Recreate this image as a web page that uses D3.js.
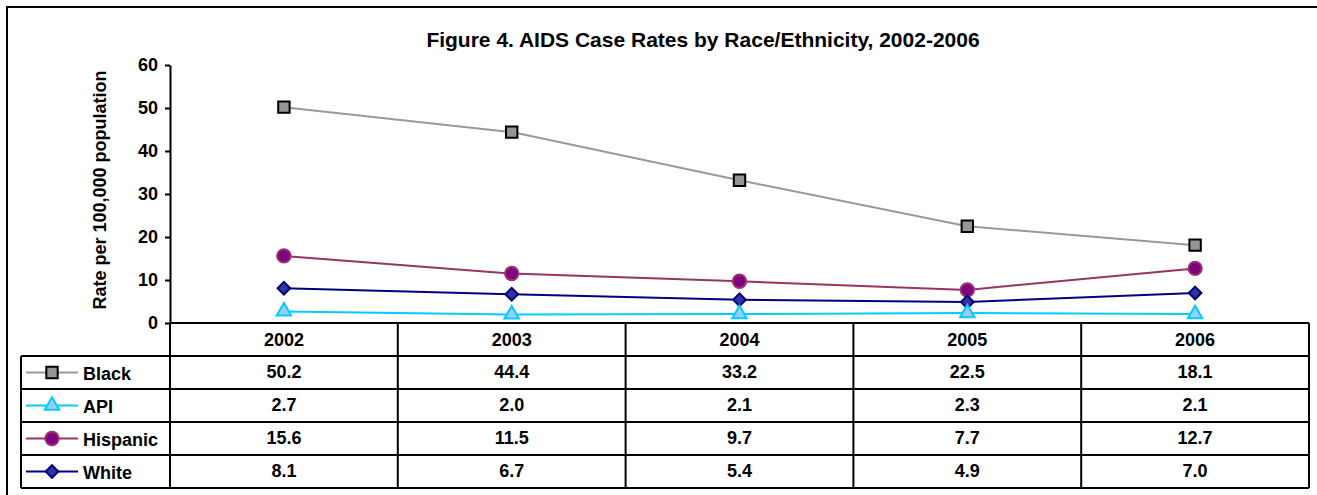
<html>
<head>
<script src="https://d3js.org/d3.v7.min.js"></script>
<style>
body { margin: 0; background: #fff; }
text { font-family: "Liberation Sans", Arial, sans-serif; font-weight: bold; }
</style>
</head>
<body>
<script>
// chart data
var years = ["2002", "2003", "2004", "2005", "2006"];
var seriesNames = ["Black", "API", "Hispanic", "White"];
var black = [50.2, 44.4, 33.2, 22.5, 18.1];
var api = [2.7, 2.0, 2.1, 2.3, 2.1];
var hispanic = [15.6, 11.5, 9.7, 7.7, 12.7];
var white = [8.1, 6.7, 5.4, 4.9, 7.0];
var yTicks = [0, 10, 20, 30, 40, 50, 60];

var styles = {
  Black:    {line: "#999999", fill: "#969696", stroke: "#000000", shape: d3.symbolSquare, size: 130, rot: 0},
  API:      {line: "#00ccff", fill: "#99ccff", stroke: "#00ccff", shape: d3.symbolTriangle, size: 90, rot: 0},
  Hispanic: {line: "#993366", fill: "#800080", stroke: "#993366", shape: d3.symbolCircle, size: 140, rot: 0},
  White:    {line: "#000080", fill: "#333399", stroke: "#000080", shape: d3.symbolSquare, size: 80, rot: 45}
};
var values = {Black: black, API: api, Hispanic: hispanic, White: white};

var W = 1317, H = 495;
var plotLeft = 170, plotRight = 1309, plotTop = 65, plotBottom = 323;
var rowH = 33, tableLeft = 21;

var svg = d3.select("body").append("svg")
    .attr("width", W).attr("height", H);

// outer frame
svg.append("rect")
    .attr("x", 7).attr("y", 7).attr("width", 1320).attr("height", 500)
    .attr("fill", "none").attr("stroke", "#000").attr("stroke-width", 2);

svg.append("text")
    .attr("x", 703).attr("y", 47)
    .attr("text-anchor", "middle")
    .style("font-size", "21px")
    .text("Figure 4. AIDS Case Rates by Race/Ethnicity, 2002-2006");

var x = d3.scaleBand().domain(years).range([plotLeft, plotRight]);
var y = d3.scaleLinear().domain([0, 60]).range([plotBottom, plotTop]);

// y axis
var yAxis = svg.append("g")
    .attr("transform", "translate(" + plotLeft + ",0)")
    .call(d3.axisLeft(y).tickValues(yTicks).tickSize(5).tickPadding(7).tickSizeOuter(0));
yAxis.select(".domain").attr("stroke", "#000").attr("stroke-width", 2);
yAxis.selectAll(".tick line").attr("stroke", "#000").attr("stroke-width", 2);
yAxis.selectAll(".tick text")
    .style("font-size", "18px").style("font-family", "Liberation Sans, Arial, sans-serif")
    .style("font-weight", "bold").attr("fill", "#000");

svg.append("text")
    .attr("transform", "translate(106," + 190 + ") rotate(-90)")
    .attr("text-anchor", "middle")
    .style("font-size", "18px")
    .text("Rate per 100,000 population");

// lines and markers
var cx = function(i) { return x(years[i]) + x.bandwidth() / 2; };
var line = d3.line()
    .x(function(d, i) { return cx(i); })
    .y(function(d) { return y(d); });

var drawOrder = ["Black", "Hispanic", "White", "API"];
drawOrder.forEach(function(name) {
  var s = styles[name];
  svg.append("path")
      .datum(values[name])
      .attr("d", line)
      .attr("fill", "none")
      .attr("stroke", s.line)
      .attr("stroke-width", 2);
  svg.selectAll(".m-" + name)
      .data(values[name])
    .enter().append("path")
      .attr("transform", function(d, i) {
        return "translate(" + cx(i) + "," + y(d) + ") rotate(" + s.rot + ")";
      })
      .attr("d", d3.symbol().type(s.shape).size(s.size))
      .attr("fill", s.fill)
      .attr("stroke", s.stroke)
      .attr("stroke-width", 2);
});

// data table
var t = svg.append("g");
var tableBottom = plotBottom + rowH * (seriesNames.length + 1);

t.append("line").attr("x1", plotLeft).attr("x2", plotRight).attr("y1", plotBottom).attr("y2", plotBottom);
for (var r = 1; r <= seriesNames.length + 1; r++) {
  t.append("line").attr("x1", tableLeft).attr("x2", plotRight)
      .attr("y1", plotBottom + r * rowH).attr("y2", plotBottom + r * rowH);
}
t.append("line").attr("x1", tableLeft).attr("x2", tableLeft)
    .attr("y1", plotBottom + rowH).attr("y2", tableBottom);
years.forEach(function(yr) {
  t.append("line").attr("x1", x(yr)).attr("x2", x(yr))
      .attr("y1", plotBottom).attr("y2", tableBottom);
});
t.append("line").attr("x1", plotRight).attr("x2", plotRight)
    .attr("y1", plotBottom).attr("y2", tableBottom);
t.selectAll("line").attr("stroke", "#000").attr("stroke-width", 2);

// header
t.selectAll(".hdr").data(years).enter().append("text")
    .attr("x", function(d) { return x(d) + x.bandwidth() / 2; })
    .attr("y", plotBottom + rowH / 2 + 6)
    .attr("text-anchor", "middle")
    .style("font-size", "18px")
    .text(function(d) { return d; });

seriesNames.forEach(function(name, r) {
  var cy = plotBottom + (r + 1) * rowH + rowH / 2;
  var s = styles[name];
  t.append("line").attr("x1", 26).attr("x2", 78).attr("y1", cy).attr("y2", cy)
      .attr("stroke", s.line).attr("stroke-width", 2);
  t.append("path")
      .attr("transform", "translate(52," + cy + ") rotate(" + s.rot + ")")
      .attr("d", d3.symbol().type(s.shape).size(s.size))
      .attr("fill", s.fill).attr("stroke", s.stroke).attr("stroke-width", 2);
  t.append("text").attr("x", 83).attr("y", cy + 7)
      .style("font-size", "18px").text(name);
  t.selectAll(".v-" + name).data(values[name]).enter().append("text")
      .attr("x", function(d, i) { return cx(i); })
      .attr("y", cy + 5)
      .attr("text-anchor", "middle")
      .style("font-size", "18px")
      .text(function(d) { return d.toFixed(1); });
});
</script>
</body>
</html>
